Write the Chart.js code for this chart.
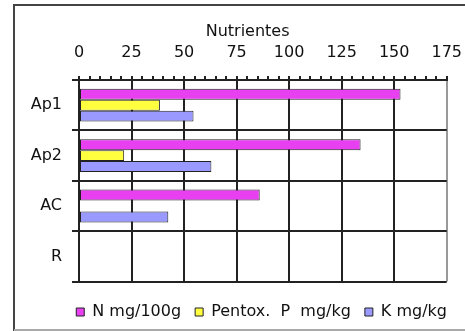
<!DOCTYPE html>
<html>
<head>
<meta charset="utf-8">
<script src="https://cdn.jsdelivr.net/npm/chart.js@4/dist/chart.umd.min.js"></script>
<style>
  body { margin: 0; background: #fff; }
</style>
</head>
<body>
<canvas id="myChart" width="465" height="331"></canvas>
<script>
// data
const categories = ['Ap1', 'Ap2', 'AC', 'R']
const nValues = [153, 134, 86, null]
const pValues = [38.5, 21.5, null, null]
const kValues = [54.5, 63, 42.5, null]
const xTicks = [0, 25, 50, 75, 100, 125, 150, 175]

const seriesNames = ['N mg/100g', 'Pentox.  P  mg/kg', 'K mg/kg']
const seriesColors = ['#e840f0', '#ffff40', '#9999ff']

const font = { family: 'DejaVu Sans', size: 16 }

// outer frame of the chart object
const framePlugin = {
  id: 'frame',
  beforeDraw(chart) {
    const ctx = chart.ctx
    ctx.save()
    ctx.fillStyle = '#fff'
    ctx.fillRect(0, 0, chart.width, chart.height)
    ctx.lineWidth = 2
    ctx.strokeStyle = '#444'
    ctx.beginPath()
    ctx.moveTo(14, chart.height)
    ctx.lineTo(14, 5)
    ctx.lineTo(chart.width, 5)
    ctx.stroke()
    ctx.strokeStyle = '#aaa'
    ctx.beginPath()
    ctx.moveTo(14, 330)
    ctx.lineTo(chart.width, 330)
    ctx.stroke()
    ctx.restore()
  }
}

const ctx = document.getElementById('myChart')
new Chart(ctx, {
  type: 'bar',
  data: {
    labels: categories,
    datasets: [nValues, pValues, kValues].map(function(vals, i) {
      return {
        label: seriesNames[i],
        data: vals,
        backgroundColor: seriesColors[i],
        borderColor: '#222',
        borderWidth: 1,
        borderSkipped: false,
        categoryPercentage: 0.65,
        barPercentage: 1
      }
    })
  },
  options: {
    indexAxis: 'y',
    responsive: false,
    animation: false,
    layout: { padding: { left: 14, right: 4, top: 0, bottom: 1 } },
    scales: {
      x: {
        position: 'top',
        min: 0,
        max: 175,
        afterFit: function(scale) { scale.height = 80 },
        ticks: {
          stepSize: 5,
          autoSkip: false,
          maxRotation: 0,
          padding: 3,
          color: '#111',
          font: { family: 'DejaVu Sans', size: 16, lineHeight: 2.5 },
          callback: function(v) { return xTicks.includes(v) ? String(v) : '' }
        },
        grid: {
          color: function(c) {
            if (c.tick.value === 175) return '#999'
            return c.tick.value % 25 === 0 ? '#222' : 'rgba(0,0,0,0)'
          },
          tickColor: '#222',
          tickLength: 4,
          lineWidth: 2
        },
        border: { color: '#222', width: 2 },
        title: {
          display: true,
          text: 'Nutrientes      ',
          color: '#111',
          font: font,
          padding: { top: 22, bottom: 0 }
        }
      },
      y: {
        afterFit: function(scale) { scale.width = 65 },
        ticks: { padding: 10, color: '#111', font: font },
        grid: {
          offset: true,
          color: '#222',
          tickLength: 7,
          lineWidth: 2
        },
        border: { color: '#222', width: 2 }
      }
    },
    plugins: {
      tooltip: { enabled: false },
      legend: {
        position: 'bottom',
        align: 'end',
        title: { display: true, text: ' ', padding: 0, font: { size: 7 } },
        labels: {
          boxWidth: 8,
          boxHeight: 8,
          padding: 14,
          color: '#111',
          font: font
        }
      }
    }
  },
  plugins: [framePlugin]
})
</script>
</body>
</html>
